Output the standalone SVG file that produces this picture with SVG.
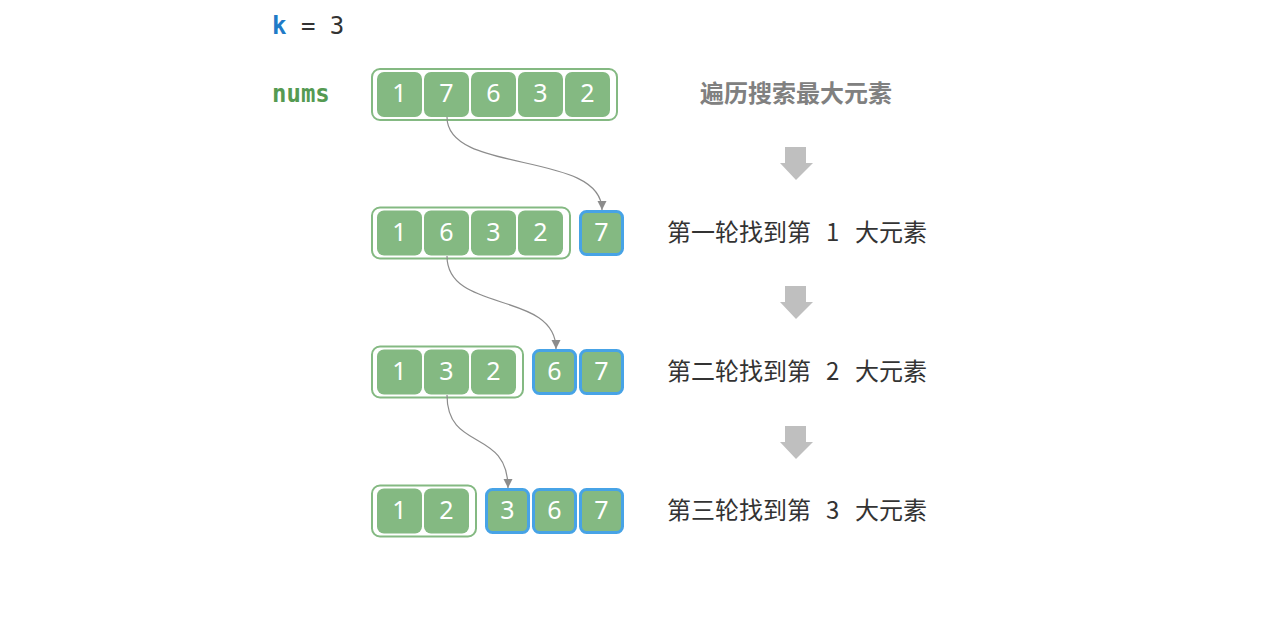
<svg xmlns="http://www.w3.org/2000/svg" width="1280" height="634" viewBox="0 0 1280 634">
<style>
.bg{fill:#ffffff}
.outer{fill:none;stroke:#84b982;stroke-width:2}
.cell{fill:#84b982}
.sel{fill:#84b982;stroke:#47a3e6;stroke-width:3}
.num{font-family:"Noto Sans","Open Sans",sans-serif;font-size:25px;fill:#ffffff;text-anchor:middle}
.lbl{font-family:"Noto Sans CJK SC","Noto Sans",sans-serif;font-size:24px;fill:#333333}
.ttl{font-family:"Noto Sans CJK SC","Noto Sans",sans-serif;font-size:24px;font-weight:bold;fill:#808080}
.mono{font-family:"DejaVu Sans Mono","Liberation Mono",monospace;font-size:24px}
.down{fill:#bfbfbf}
.conn{fill:none;stroke:#8c8c8c;stroke-width:1.2}
</style>
<defs>
<marker id="ah" markerUnits="userSpaceOnUse" markerWidth="10" markerHeight="10" refX="9" refY="5" orient="auto">
<path d="M0,0.5 L9,5 L0,9.5 z" fill="#8c8c8c"/>
</marker>
</defs>
<rect class="bg" x="0" y="0" width="1280" height="634"/>

<g id="header">
<text class="mono" x="272" y="34"><tspan font-weight="bold" fill="#1f7bc7">k</tspan><tspan fill="#333333" xml:space="preserve"> = 3</tspan></text>
<text class="mono" x="272" y="102" font-weight="bold" fill="#559a52">nums</text>
</g>

<g id="row1">
<rect class="outer" x="372" y="69" width="245" height="51" rx="8"/>
<rect class="cell" x="377" y="72" width="45" height="45" rx="7"/>
<rect class="cell" x="424" y="72" width="45" height="45" rx="7"/>
<rect class="cell" x="471" y="72" width="45" height="45" rx="7"/>
<rect class="cell" x="518" y="72" width="45" height="45" rx="7"/>
<rect class="cell" x="565" y="72" width="45" height="45" rx="7"/>
<text class="num" x="399.5" y="102">1</text>
<text class="num" x="446.5" y="102">7</text>
<text class="num" x="493.5" y="102">6</text>
<text class="num" x="540.5" y="102">3</text>
<text class="num" x="587.5" y="102">2</text>
<text class="ttl" x="700" y="102">遍历搜索最大元素</text>
</g>

<g id="row2">
<rect class="outer" x="372" y="207.5" width="198" height="51" rx="8"/>
<rect class="cell" x="377" y="210.5" width="45" height="45" rx="7"/>
<rect class="cell" x="424" y="210.5" width="45" height="45" rx="7"/>
<rect class="cell" x="471" y="210.5" width="45" height="45" rx="7"/>
<rect class="cell" x="518" y="210.5" width="45" height="45" rx="7"/>
<rect class="sel" x="580.5" y="211.5" width="42" height="43" rx="6"/>
<text class="num" x="399.5" y="240.5">1</text>
<text class="num" x="446.5" y="240.5">6</text>
<text class="num" x="493.5" y="240.5">3</text>
<text class="num" x="540.5" y="240.5">2</text>
<text class="num" x="601.5" y="240.5">7</text>
<text class="lbl" x="667" y="241">第一轮找到第<tspan x="826">1</tspan><tspan x="855">大元素</tspan></text>
</g>

<g id="row3">
<rect class="outer" x="372" y="346.5" width="151" height="51" rx="8"/>
<rect class="cell" x="377" y="349.5" width="45" height="45" rx="7"/>
<rect class="cell" x="424" y="349.5" width="45" height="45" rx="7"/>
<rect class="cell" x="471" y="349.5" width="45" height="45" rx="7"/>
<rect class="sel" x="533.5" y="350.5" width="42" height="43" rx="6"/>
<rect class="sel" x="580.5" y="350.5" width="42" height="43" rx="6"/>
<text class="num" x="399.5" y="379.5">1</text>
<text class="num" x="446.5" y="379.5">3</text>
<text class="num" x="493.5" y="379.5">2</text>
<text class="num" x="554.5" y="379.5">6</text>
<text class="num" x="601.5" y="379.5">7</text>
<text class="lbl" x="667" y="380">第二轮找到第<tspan x="826">2</tspan><tspan x="855">大元素</tspan></text>
</g>

<g id="row4">
<rect class="outer" x="372" y="485.5" width="104" height="51" rx="8"/>
<rect class="cell" x="377" y="488.5" width="45" height="45" rx="7"/>
<rect class="cell" x="424" y="488.5" width="45" height="45" rx="7"/>
<rect class="sel" x="486.5" y="489.5" width="42" height="43" rx="6"/>
<rect class="sel" x="533.5" y="489.5" width="42" height="43" rx="6"/>
<rect class="sel" x="580.5" y="489.5" width="42" height="43" rx="6"/>
<text class="num" x="399.5" y="518.5">1</text>
<text class="num" x="446.5" y="518.5">2</text>
<text class="num" x="507.5" y="518.5">3</text>
<text class="num" x="554.5" y="518.5">6</text>
<text class="num" x="601.5" y="518.5">7</text>
<text class="lbl" x="667" y="519">第三轮找到第<tspan x="826">3</tspan><tspan x="855">大元素</tspan></text>
</g>

<g id="steps">
<polygon class="down" points="785,147 806,147 806,163 813,163 796,180 780,163 785,163"/>
<polygon class="down" points="785,286 806,286 806,302 813,302 796,319 780,302 785,302"/>
<polygon class="down" points="785,426 806,426 806,442 813,442 796,459 780,442 785,442"/>
</g>

<g id="connectors">
<path class="conn" d="M447,117 C447,175 602,150 602,210" marker-end="url(#ah)"/>
<path class="conn" d="M447,256 C447,314 556,290 556,349" marker-end="url(#ah)"/>
<path class="conn" d="M447,395 C447,452 508,428 508,488" marker-end="url(#ah)"/>
</g>
</svg>
